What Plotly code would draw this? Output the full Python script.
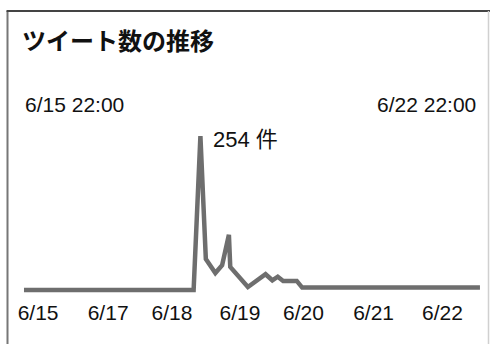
import plotly.graph_objects as go

# Tweet counts over one week, starting 6/15 22:00 (x = hours elapsed)
hours = [0, 62.5, 65, 67, 70.5, 73, 75.5, 76, 82.5, 89, 91.5, 93.5, 95.5, 100.5, 102.5, 168]
counts = [0, 0, 254, 51, 28, 41, 91, 38, 5, 26, 16, 22, 15, 15, 4, 4]

tick_hours = [5.2, 31, 54.5, 79.6, 103, 128.8, 154.2]
tick_labels = ["6/15", "6/17", "6/18", "6/19", "6/20", "6/21", "6/22"]

start_label = "6/15 22:00"
end_label = "6/22 22:00"
title_text = "ツイート数の推移"
unit = "件"

LAT = "Liberation Sans, Arial, sans-serif"
CJK = "Noto Sans CJK JP, sans-serif"

fig = go.Figure()
fig.add_trace(go.Scatter(
    x=hours, y=counts, mode="lines",
    line=dict(color="#6e6e6e", width=4.5),
    hoverinfo="skip", showlegend=False,
))

peak = max(counts)
peak_x = hours[counts.index(peak)]

fig.add_annotation(
    x=peak_x, y=peak, text=f"{peak} {unit}", showarrow=False,
    xanchor="left", yanchor="middle", xshift=11, yshift=-3,
    font=dict(family=f"{LAT}, {CJK}", size=22, color="#111"),
)
fig.add_annotation(
    x=hours[0], y=1, yref="paper", text=start_label, showarrow=False,
    xanchor="left", yanchor="middle", yshift=-104, xshift=-1,
    font=dict(family=LAT, size=21, color="#111"),
)
fig.add_annotation(
    x=hours[-1], y=1, yref="paper", text=end_label, showarrow=False,
    xanchor="right", yanchor="middle", yshift=-104, xshift=-2,
    font=dict(family=LAT, size=21, color="#111"),
)
fig.add_annotation(
    x=0.04, xref="paper", y=1, yref="paper", text=f"<b>{title_text}</b>",
    showarrow=False, xanchor="left", yanchor="middle", yshift=-39,
    font=dict(family=CJK, size=24, color="#111"),
)

# Panel frame
fig.add_shape(type="line", xref="paper", yref="paper",
              x0=7.5 / 490, x1=7.5 / 490, y0=(298 - 11) / 298, y1=-0.2,
              line=dict(color="#777", width=2))
fig.add_shape(type="line", xref="paper", yref="paper",
              x0=6.5 / 490, x1=1.01, y0=(298 - 11) / 298, y1=(298 - 11) / 298,
              line=dict(color="#444", width=2))
fig.add_shape(type="line", xref="paper", yref="paper",
              x0=488.5 / 490, x1=488.5 / 490, y0=(298 - 11) / 298, y1=-0.2,
              line=dict(color="#d0d0d0", width=1.5))

fig.update_layout(
    width=490, height=344,
    margin=dict(l=0, r=0, t=0, b=46),
    paper_bgcolor="white", plot_bgcolor="white",
    xaxis=dict(
        range=[-8.84, 171.7], showgrid=False, zeroline=False, showline=False,
        tickvals=tick_hours, ticktext=tick_labels, ticks="",
        tickfont=dict(family=LAT, size=21, color="#111"),
        fixedrange=True,
    ),
    yaxis=dict(
        range=[-13.2, 478.5], showgrid=False, zeroline=False, showline=False,
        showticklabels=False, fixedrange=True,
    ),
)

fig.write_html("out.html")
